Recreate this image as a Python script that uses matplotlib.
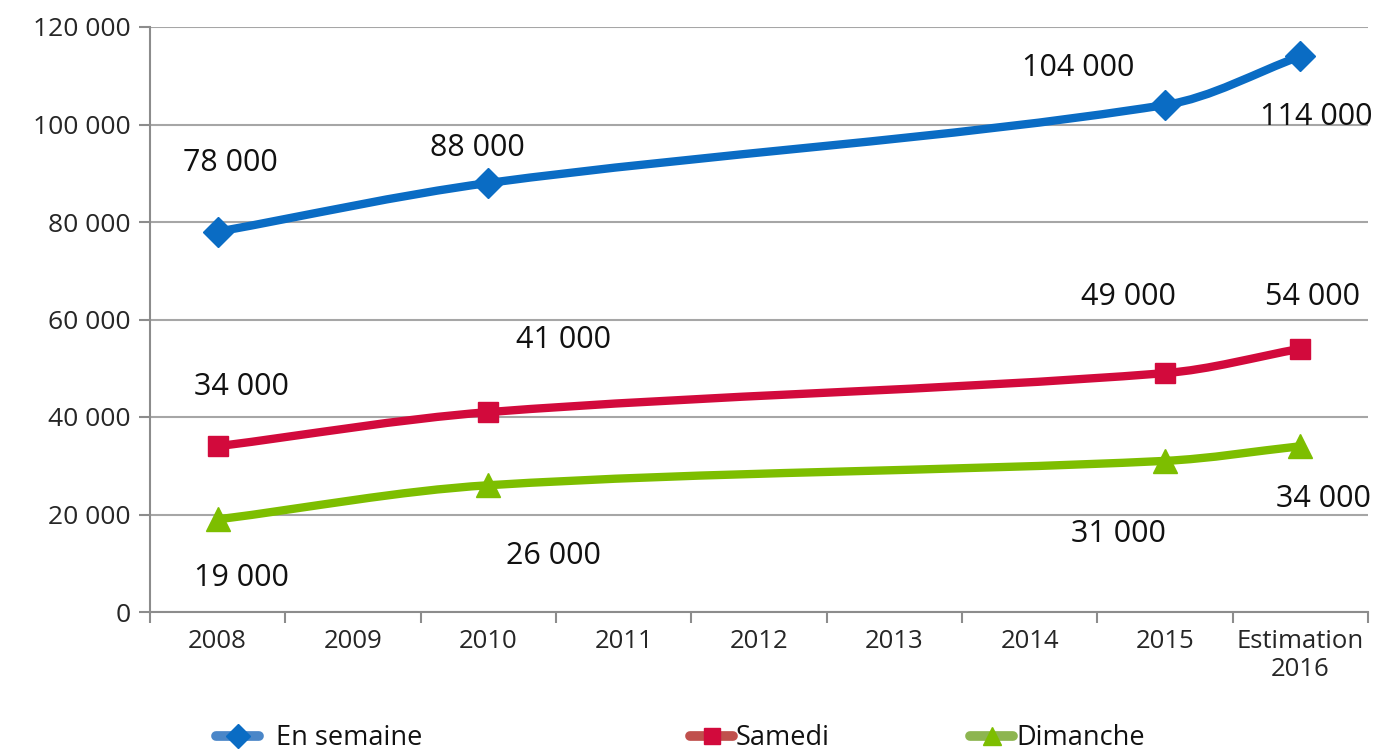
import numpy as np
import matplotlib
matplotlib.use("Agg")
import matplotlib.pyplot as plt
from matplotlib.path import Path
from matplotlib.patches import PathPatch
from matplotlib.lines import Line2D

plt.rcParams['font.family'] = ['Open Sans', 'DejaVu Sans']

# ── data ────────────────────────────────────────────────────────────────
categories = ['2008', '2009', '2010', '2011', '2012', '2013', '2014', '2015',
              'Estimation\n2016']
point_idx = [0, 2, 7, 8]          # categories that carry a value
semaine = [78000, 88000, 104000, 114000]
samedi = [34000, 41000, 49000, 54000]
dimanche = [19000, 26000, 31000, 34000]

series = [
    ('En semaine', semaine, '#0A6CC4', '#4A86C8', 'D', 15,
     [(13, 69), (-11, 35), (-87, 37), (16, -61)]),
    ('Samedi', samedi, '#D20A3C', '#C0504D', 's', 15,
     [(24, 59), (75, 72), (-37, 76), (12, 52)]),
    ('Dimanche', dimanche, '#7DBE00', '#8DB550', '^', 17,
     [(24, -59), (65, -71), (-47, -73), (23, -53)]),
]

# screen scale (px per unit) used only to weight the smoothing
SX, SY = 1218 / 9, 585 / 120000


def smooth_path(xs, ys):
    """Smoothed line: Catmull-Rom tangents, control length scaled per segment."""
    p = np.column_stack([xs, ys]).astype(float)
    p = np.vstack([p[0], p, p[-1]])
    scale = np.array([SX, SY])

    def d(a, b):
        return np.hypot(*((b - a) * scale)) + 1e-9

    verts = [tuple(p[1])]
    codes = [Path.MOVETO]
    for i in range(1, len(p) - 2):
        d01, d12, d23 = d(p[i - 1], p[i]), d(p[i], p[i + 1]), d(p[i + 1], p[i + 2])
        c1 = p[i] + (p[i + 1] - p[i - 1]) * d12 / (d01 + d12) / 3.0
        c2 = p[i + 1] - (p[i + 2] - p[i]) * d12 / (d12 + d23) / 3.0
        verts += [tuple(c1), tuple(c2), tuple(p[i + 1])]
        codes += [Path.CURVE4] * 3
    return Path(verts, codes)


fig = plt.figure(figsize=(13.85, 7.52), dpi=100)
ax = fig.add_axes([150 / 1385, 1 - 612 / 752, 1218 / 1385, 585 / 752])

for name, vals, col, lcol, mk, ms, offs in series:
    ax.add_patch(PathPatch(smooth_path(point_idx, vals), fill=False,
                           edgecolor=col, lw=6, capstyle='round',
                           joinstyle='round', zorder=3))
    ax.plot(point_idx, vals, ls='none', marker=mk, ms=ms, color=col, zorder=4)
    for xi, v, off in zip(point_idx, vals, offs):
        ax.annotate(f"{v:,}".replace(',', ' '), xy=(xi, v), xytext=off,
                    textcoords='offset pixels', ha='center', va='center',
                    fontsize=22, color='#111111', zorder=5)

ax.set_xlim(-0.5, len(categories) - 0.5)
ax.set_ylim(0, 120000)
ax.set_yticks(np.arange(0, 120001, 20000))
ax.set_yticklabels([f"{v:,}".replace(',', ' ') for v in range(0, 120001, 20000)])
ax.set_xticks(np.arange(len(categories)))
ax.set_xticklabels(categories, linespacing=1.2)
ax.set_xticks(np.arange(-0.5, len(categories)), minor=True)
ax.tick_params(axis='x', which='major', length=0, pad=12, labelsize=18.5,
               labelcolor='#262626')
ax.tick_params(axis='x', which='minor', length=8, width=1.5, color='#8C8C8C')
ax.tick_params(axis='y', length=8, width=1.5, color='#8C8C8C', pad=6,
               labelsize=19, labelcolor='#262626')

ax.grid(axis='y', color='#A6A6A6', lw=1.5, zorder=0)
for s in ['top', 'right']:
    ax.spines[s].set_visible(False)
for s in ['left', 'bottom']:
    ax.spines[s].set_color('#8C8C8C')
    ax.spines[s].set_linewidth(1.5)

# legend, one entry at a time to follow the uneven spacing
leg_x = [216, 690, 970]
for (name, vals, col, lcol, mk, ms, offs), lx in zip(series, leg_x):
    h = Line2D([0], [0], color=lcol, lw=7, solid_capstyle='round',
               marker=mk, ms=ms * 0.8, markerfacecolor=col,
               markeredgecolor=col)
    lg = fig.legend(handles=[h], labels=[name], loc='center left',
                    bbox_to_anchor=(lx / 1385, 1 - 738 / 752), frameon=False,
                    fontsize=19.5, handlelength=1.6,
                    handletextpad=0.6 if name == 'En semaine' else 0.1,
                    borderpad=0, borderaxespad=0)
    for t in lg.get_texts():
        t.set_color('#111111')

fig.savefig('out.png', dpi=100)
